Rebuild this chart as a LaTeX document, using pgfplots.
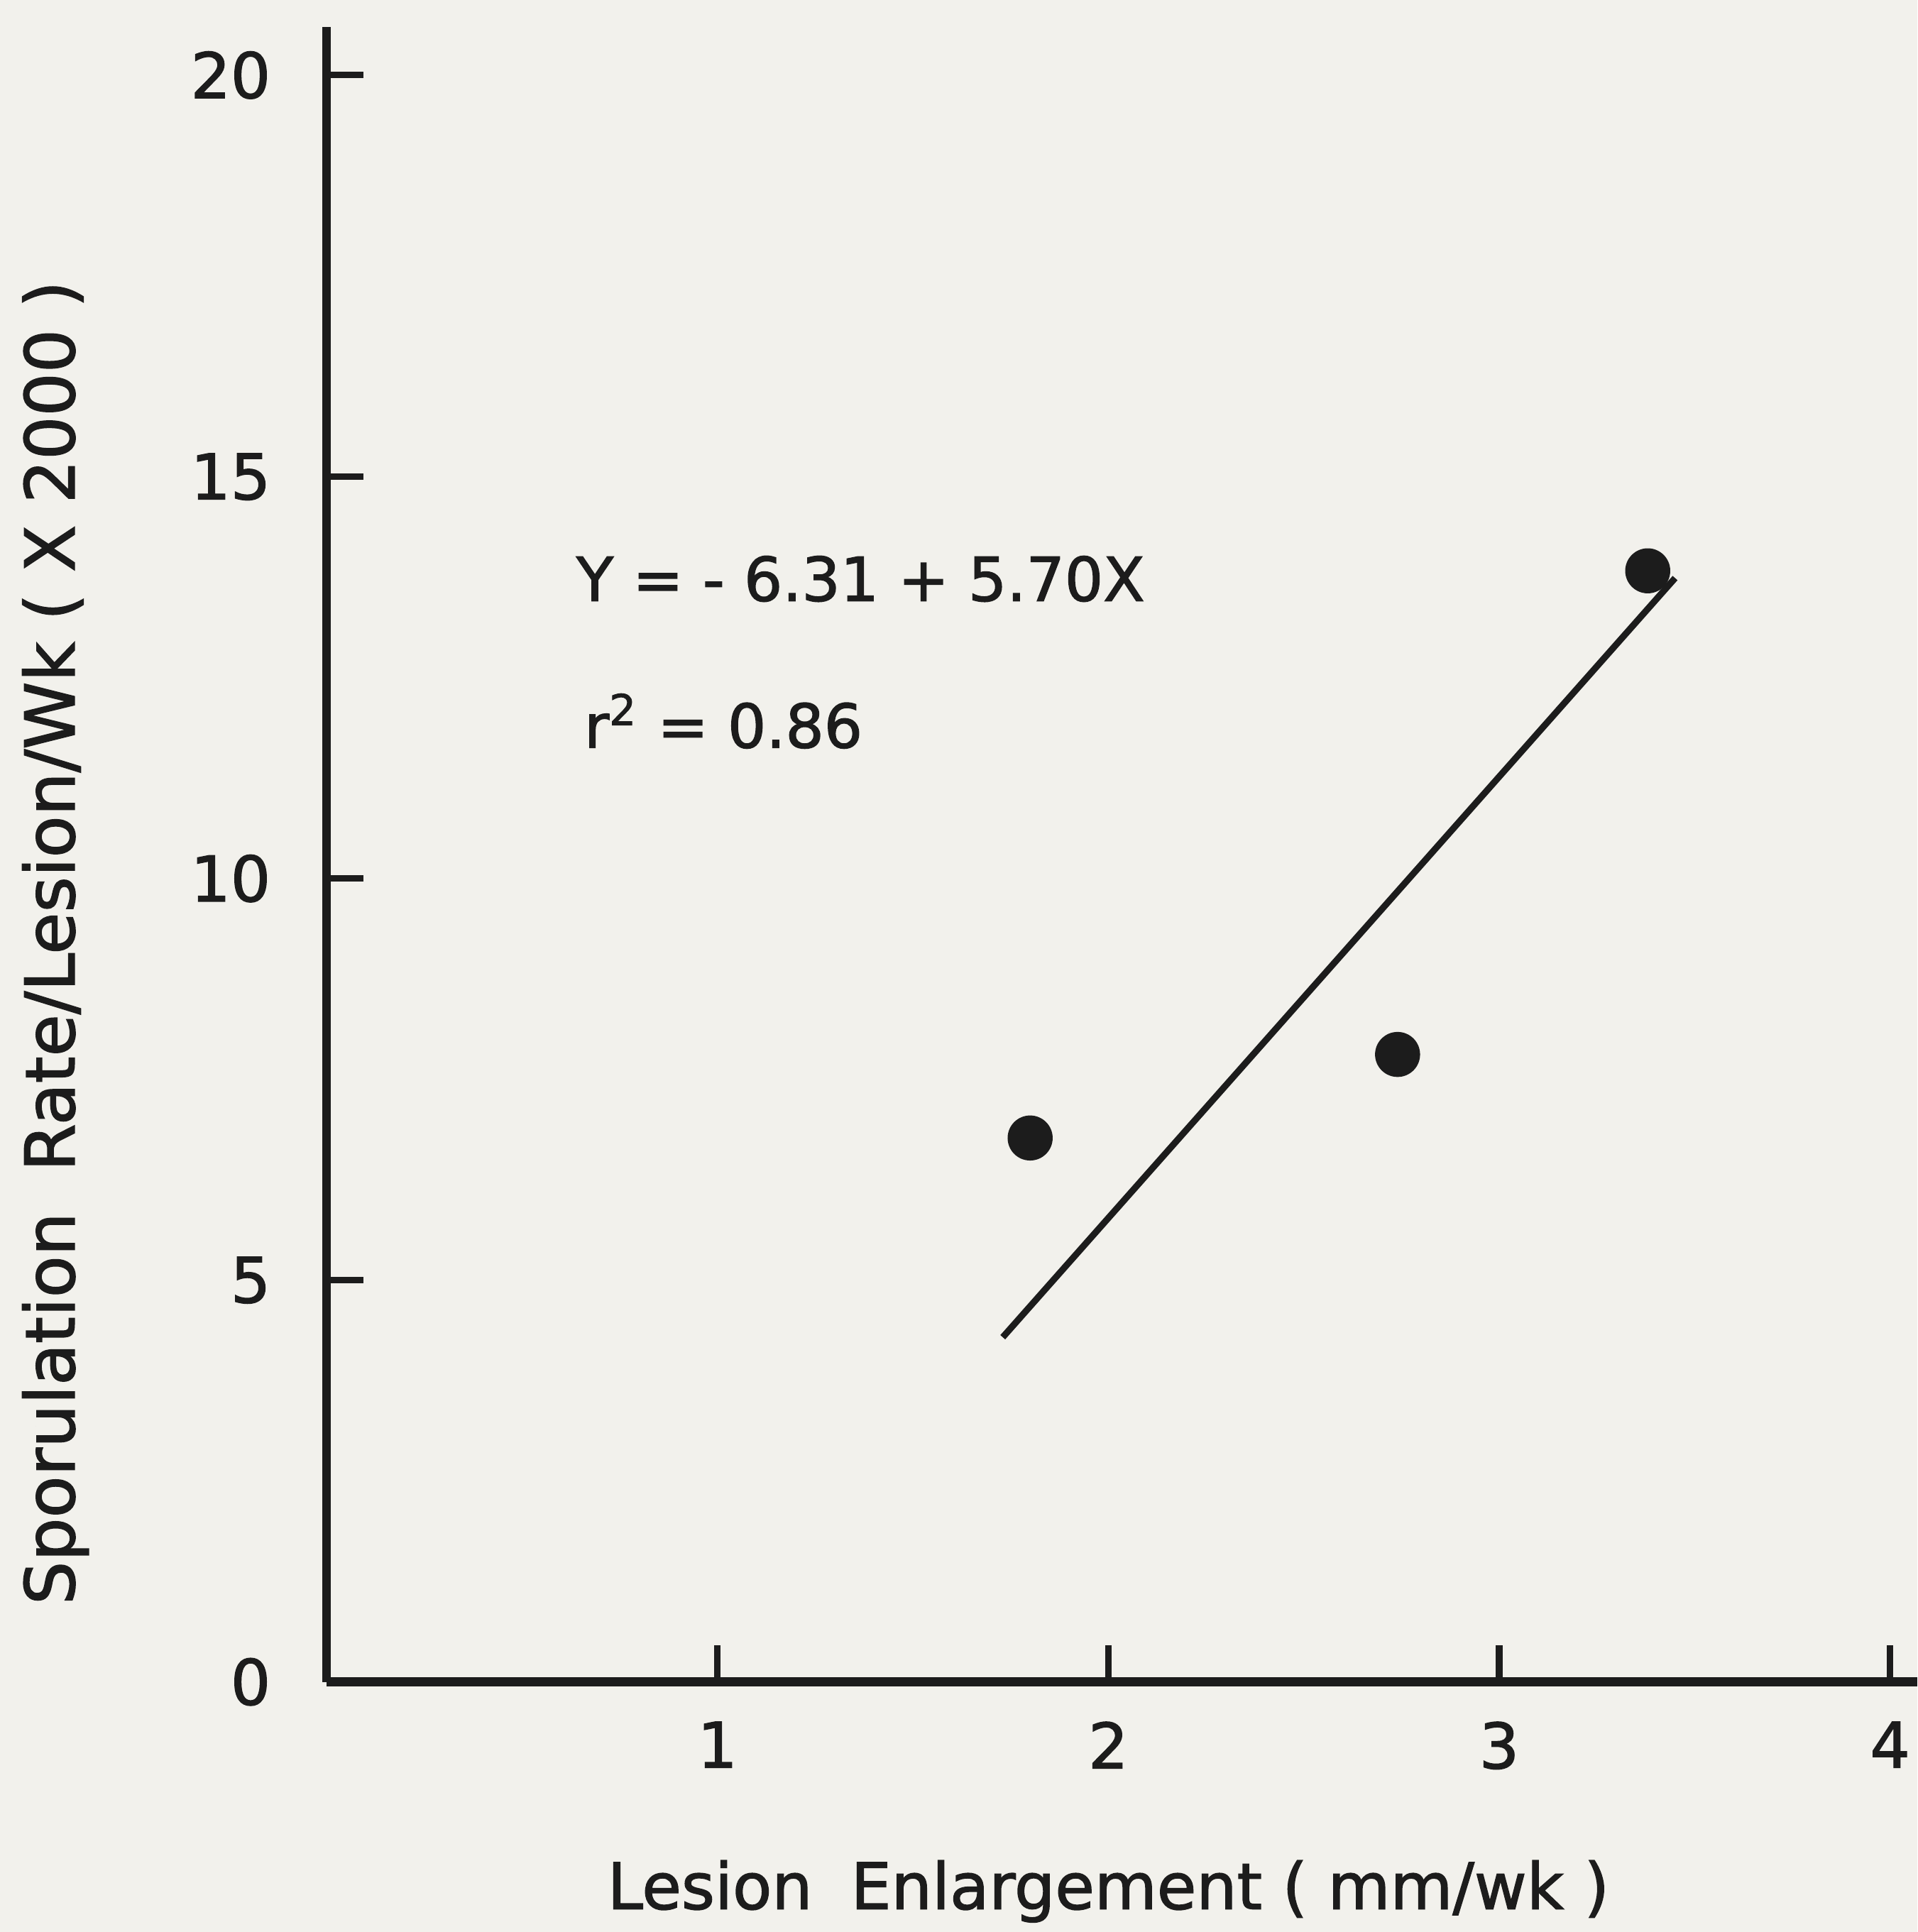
\documentclass[border=0pt]{standalone}
\usepackage{pgfplots}
\pgfplotsset{compat=1.18}
\usepackage{fontspec}
\setmainfont{DejaVu Sans}[BoldFont={DejaVu Sans}, BoldFeatures={FakeBold=1.6}]
\definecolor{paper}{RGB}{242,241,236}
\definecolor{ink}{RGB}{28,28,28}
\begin{document}
\begin{tikzpicture}
\useasboundingbox (-2.65,-2.03) rectangle (12.91,13.65);
\fill[paper] (-2.65,-2.03) rectangle (12.91,13.65);
\begin{axis}[
  anchor=origin, at={(0,0)},
  x=3.172cm, y=0.652cm,
  xmin=0, xmax=4.07, ymin=0, ymax=20.6,
  axis lines*=left,
  axis line style={line width=2pt, ink},
  tick align=inside,
  major tick length=0.3cm,
  tick style={line width=1.5pt, ink},
  xtick={1,2,3,4},
  ytick={0,5,10,15,20},
  /pgf/number format/assume math mode=true,
  ticklabel style={font=\fontsize{14.5}{14.5}\selectfont\bfseries, text=ink},
  yticklabel style={anchor=east, xshift=-0.33cm},
  xticklabel style={anchor=north, yshift=-0.2cm},
  xlabel={Lesion\hspace{0.6em}Enlargement ( mm/wk )},
  ylabel={Sporulation\hspace{0.6em}Rate/Lesion/Wk ( X 2000 )},
  xlabel style={font=\fontsize{14.8}{14.8}\selectfont\bfseries, text=ink, at={(axis description cs:0.4914,-0.1266)}, anchor=center},
  ylabel style={font=\fontsize{15.8}{15.8}\selectfont\bfseries, text=ink, at={(axis description cs:-0.1704,0.4466)}, anchor=center},
  clip=false,
]
\addplot[line width=1.5pt, ink] coordinates {(1.73,4.29) (3.45,13.74)};
\addplot[only marks, mark=*, mark size=5pt, ink, mark options={fill=ink, draw=ink}] coordinates {(1.80,6.77) (2.74,7.81) (3.38,13.83)};
\node[anchor=west, font=\fontsize{14}{14}\selectfont\bfseries, text=ink] at (axis cs:0.6,13.73) {Y = - 6.31 + 5.70X};
\node[anchor=west, font=\fontsize{14}{14}\selectfont\bfseries, text=ink] at (axis cs:0.62,11.96) {r\textsuperscript{2} = 0.86};
\end{axis}
\end{tikzpicture}
\end{document}
